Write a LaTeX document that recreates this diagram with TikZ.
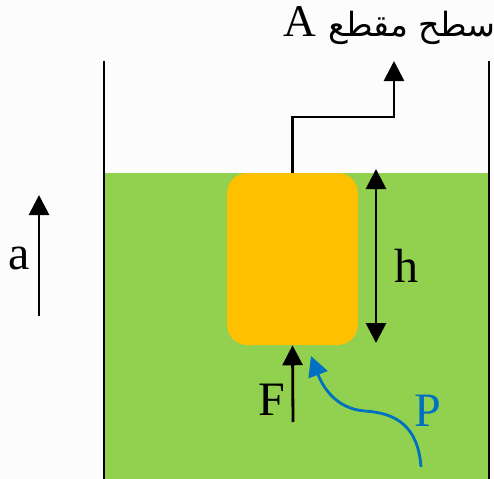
\documentclass[tikz,border=0pt]{standalone}
\usepackage{fontspec}
\setmainfont{Liberation Serif}
\newfontfamily\arabicfont[Script=Arabic]{DejaVu Sans}
\TeXXeTstate=1
\usetikzlibrary{arrows.meta}
\definecolor{liquid}{HTML}{92D050}
\definecolor{bodycol}{HTML}{FFC000}
\definecolor{pblue}{HTML}{0070C0}

\begin{document}
\begin{tikzpicture}[x=0.75pt,y=-0.75pt,
	wall/.style={line width=1.5pt},
	pointer/.style={line width=2.1pt,-{Triangle[length=15pt,width=15pt]}},
	lbl/.style={font=\fontsize{36}{40}\selectfont}]
	% Sfondo
	\fill[gray!2] (0,0) rectangle (494,479);
	\useasboundingbox (0,0) rectangle (494,479);

	% Liquido e pareti
	\fill[liquid] (105,173) rectangle (489,479);
	\draw[wall] (104,61) -- (104,479);
	\draw[wall] (489,61) -- (489,479);

	% Corpo immerso
	\node[fill=bodycol, rounded corners=15pt, minimum width=98pt, minimum height=129pt,
		inner sep=0pt] (body) at (292.5,259) {};

	% Sezione
	\node[anchor=base east, inner sep=0pt] (area) at (496,36)
		{\beginR{\arabicfont\fontsize{25}{30}\selectfont سطح مقطع}\hspace{9pt}\beginL{\fontsize{34}{36}\selectfont A}\endL\endR};
	\coordinate (bend) at (292.5,117);
	\coordinate (areatip) at (394,61);
	\draw[pointer] (body.north) -- (bend) -| (areatip);

	% Altezza
	\coordinate (htop) at (376,169);
	\coordinate (hbot) at (376,343);
	\draw[line width=2.1pt,{Triangle[length=15pt,width=15pt]}-{Triangle[length=15pt,width=15pt]}] (htop) -- (hbot);
	\node[lbl] (h) at (406,266) {h};

	% Accelerazione
	\coordinate (abot) at (39,316);
	\coordinate (atop) at (39,195);
	\draw[pointer] (abot) -- (atop);
	\node[lbl] (a) at (19,258) {a};

	% Forza
	\coordinate (fbot) at (293,422);
	\draw[pointer] (fbot) -- (body.south);
	\node[lbl] (F) at (272,400) {F};

	% Pressione
	\coordinate (pbot) at (421,467);
	\coordinate (ptip) at (311,356);
	\draw[pointer, pblue] (pbot) .. controls (418,425) and (395,413) .. (365,411)
		.. controls (335,409) and (322,385) .. (ptip);
	\node[lbl, pblue] (P) at (428,411) {P};
\end{tikzpicture}
\end{document}
